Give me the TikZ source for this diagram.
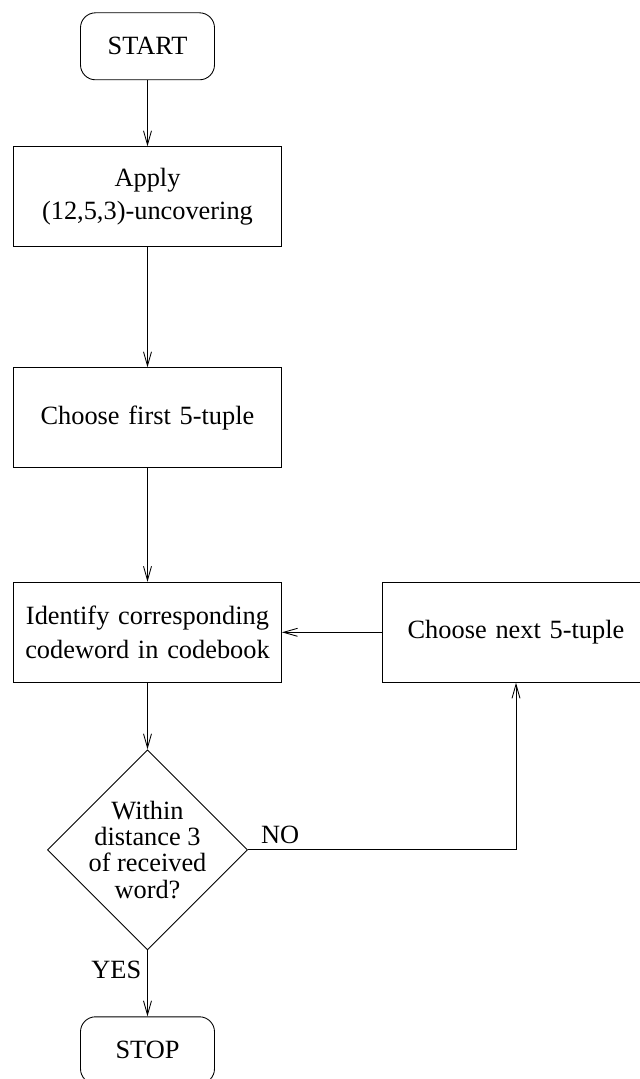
\documentclass[tikz,border=0pt]{standalone}
\usepackage{fontspec}
\setmainfont{Liberation Serif}
\usetikzlibrary{shapes.geometric,arrows.meta}
\tikzstyle{terminal} = [rectangle, draw, rounded corners=0.3cm,
    minimum width=2.68cm, minimum height=1.34cm]
\tikzstyle{block} = [rectangle, draw, text width=5.36cm, inner sep=0pt,
    align=center, minimum height=2cm]
\tikzstyle{decision} = [diamond, draw, minimum width=4cm, minimum height=4cm,
    inner sep=-1mm, align=center, font=\fontsize{15}{15}\selectfont]
\tikzstyle{line} = [draw, -{Straight Barb[length=2.8mm,width=1.6mm]}]

\begin{document}
\begin{tikzpicture}[node distance=2cm, font=\fontsize{15}{19}\selectfont, line width=0.5pt]
    \useasboundingbox (-2.95,0.926) rectangle (9.83,-20.654);
    % Place nodes
    \node [terminal] (start) {START};
    \node [block, below of=start, node distance=3.01cm] (apply) {Apply\\(12,5,3)-uncovering};
    \node [block, below of=apply, node distance=4.42cm] (first) {Choose first 5-tuple};
    \node [block, below of=first, node distance=4.29cm] (identify) {Identify corresponding\\codeword in codebook};
    \node [block, right of=identify, node distance=7.37cm] (next) {Choose next 5-tuple};
    \node [decision, below of=identify, node distance=4.35cm] (check) {Within\\distance 3\\of received\\word?};
    \node [terminal, below of=check, node distance=4.01cm] (stop) {STOP};
    % Draw edges
    \path [line] (start) -- (apply);
    \path [line] (apply) -- (first);
    \path [line] (first) -- (identify);
    \path [line] (identify) -- (check);
    \path [line] (check) -- node [left, pos=0.3] {YES} (stop);
    \path [line] (check.east) -| node [above, pos=0.06] {NO} (next.south);
    \path [line] (next) -- (identify);
\end{tikzpicture}
\end{document}
